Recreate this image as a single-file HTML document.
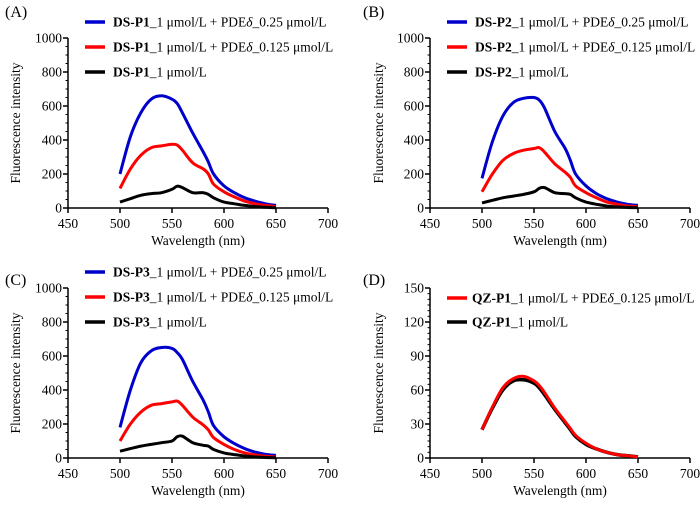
<!DOCTYPE html>
<html><head><meta charset="utf-8"><style>
body{margin:0;background:#fff}
svg, svg text{font-family:"Liberation Serif","Times New Roman",serif}
</style></head><body>
<svg id="fig" width="700" height="500" viewBox="0 0 700 500" font-family="Liberation Serif, serif"></svg>
<script>
const wavelengths=[500,510,520,530,540,550,555,560,570,580,585,590,600,610,620,630,640,650];
const xTicks=[450,500,550,600,650,700];
const yTicksDS=[0,200,400,600,800,1000];
const yTicksQZ=[0,30,60,90,120,150];
const aBlue=[200,420,560,640,660,640,615,560,440,330,270,200,130,90,60,40,25,15];
const aRed=[115,230,310,355,365,375,370,340,265,230,200,140,95,65,40,25,15,8];
const aBlack=[35,55,75,85,90,110,128,120,90,90,80,60,35,25,15,8,4,2];
const bBlue=[175,390,540,620,645,650,635,590,450,350,280,200,130,85,55,35,22,15];
const bRed=[95,200,280,320,340,350,355,330,260,210,180,130,90,60,35,22,12,8];
const bBlack=[30,45,60,70,80,95,115,120,90,85,80,60,35,22,12,6,3,2];
const cBlue=[180,400,560,630,650,645,620,580,450,340,270,190,125,85,55,35,22,15];
const cRed=[100,200,270,310,320,330,335,310,240,195,165,120,80,50,30,18,10,6];
const cBlack=[40,55,70,80,90,100,125,128,90,75,70,50,30,20,12,6,3,2];
const dRed=[25,45,62,70,72,68,64,58,44,32,26,20,13,8,5,3,2,1];
const dBlack=[25,44,60,68,69,66,62,56,43,31,25,19,12,8,5,3,2,1];

const NS="http://www.w3.org/2000/svg";
const svg=document.getElementById('fig');
const FF='Liberation Serif, serif';
function mk(tag,attrs,parent){const e=document.createElementNS(NS,tag);for(const k in attrs)e.setAttribute(k,attrs[k]);if(tag==='text')e.setAttribute('font-family',FF);(parent||svg).appendChild(e);return e;}
function smooth(pts){
 let d='M'+pts[0][0].toFixed(1)+' '+pts[0][1].toFixed(1);
 for(let i=0;i<pts.length-1;i++){
  const p0=pts[Math.max(0,i-1)],p1=pts[i],p2=pts[i+1],p3=pts[Math.min(pts.length-1,i+2)];
  const c1x=p1[0]+(p2[0]-p0[0])/6,c1y=p1[1]+(p2[1]-p0[1])/6;
  const c2x=p2[0]-(p3[0]-p1[0])/6,c2y=p2[1]-(p3[1]-p1[1])/6;
  d+=` C${c1x.toFixed(1)} ${c1y.toFixed(1)} ${c2x.toFixed(1)} ${c2y.toFixed(1)} ${p2[0].toFixed(1)} ${p2[1].toFixed(1)}`;
 }
 return d;
}

const panels=[
 {id:'a',label:'(A)',lx:5,ly:17,x0:68,x1:328,yt:38,yb:208,ticks:yTicksDS,minor:50,ylx:20,
  series:[[aBlue,'#0000cc','DS-P1','+ PDE','0.25 μmol/L'],[aRed,'#ff0000','DS-P1','+ PDE','0.125 μmol/L'],[aBlack,'#000','DS-P1','']],
  legX:85,legY:[22,47,72]},
 {id:'b',label:'(B)',lx:363,ly:17,x0:430,x1:690,yt:38,yb:208,ticks:yTicksDS,minor:50,ylx:383,
  series:[[bBlue,'#0000cc','DS-P2','+ PDE','0.25 μmol/L'],[bRed,'#ff0000','DS-P2','+ PDE','0.125 μmol/L'],[bBlack,'#000','DS-P2','']],
  legX:447,legY:[22,47,72]},
 {id:'c',label:'(C)',lx:5,ly:285,x0:68,x1:328,yt:288,yb:458,ticks:yTicksDS,minor:50,ylx:20,
  series:[[cBlue,'#0000cc','DS-P3','+ PDE','0.25 μmol/L'],[cRed,'#ff0000','DS-P3','+ PDE','0.125 μmol/L'],[cBlack,'#000','DS-P3','']],
  legX:85,legY:[272,297,322]},
 {id:'d',label:'(D)',lx:363,ly:285,x0:430,x1:690,yt:288,yb:458,ticks:yTicksQZ,minor:5,ylx:383,
  series:[[dBlack,'#000','QZ-P1','','',true],[dRed,'#ff0000','QZ-P1','+ PDE','0.125 μmol/L']],
  legX:447,legY:[298,322]}
];

panels.forEach(p=>{
 const g=mk('g',{});
 
 
 const ymax=p.ticks[p.ticks.length-1];
 const sx=v=>p.x0+(v-450)/250*(p.x1-p.x0);
 const sy=v=>p.yb-(v/ymax)*(p.yb-p.yt);
 const pl=mk('text',{x:p.lx,y:p.ly,'font-size':16},g);pl.textContent=p.label;
 
 const ya=mk('line',{x1:p.x0,y1:p.yt,x2:p.x0,y2:p.yb,stroke:'#000','stroke-width':1.5},g);
 
 const xa=mk('line',{x1:p.x0,y1:p.yb,x2:p.x1,y2:p.yb,stroke:'#000','stroke-width':1.5},g);
 
 for(let v=0;v<=ymax;v+=p.minor){const y=sy(v);mk('line',{x1:p.x0-2.5,y1:y,x2:p.x0,y2:y,stroke:'#000','stroke-width':1},g);}
 p.ticks.forEach(v=>{const y=sy(v);mk('line',{x1:p.x0-5,y1:y,x2:p.x0,y2:y,stroke:'#000','stroke-width':1.5},g);
  const t=mk('text',{x:p.x0-6,y:y+4.5,'font-size':13.5,'text-anchor':'end'},g);t.textContent=v;
  });
 xTicks.forEach(v=>{const x=sx(v);mk('line',{x1:x,y1:p.yb,x2:x,y2:p.yb+5,stroke:'#000','stroke-width':1.5},g);
  const t=mk('text',{x:x,y:p.yb+20,'font-size':13.5,'text-anchor':'middle'},g);t.textContent=v;
  });
 const xl=mk('text',{x:(p.x0+p.x1)/2,y:p.yb+37,'font-size':13.5,'text-anchor':'middle'},g);xl.textContent='Wavelength (nm)';
 
 const cy=(p.yt+p.yb)/2;
 const yl=mk('text',{x:p.ylx,y:cy,'font-size':13.5,'text-anchor':'middle',transform:`rotate(-90 ${p.ylx} ${cy})`},g);yl.textContent='Fluorescence intensity';
 
 p.series.forEach(s=>{
  const pts=s[0].map((v,i)=>[sx(wavelengths[i]),sy(v)]);
  const path=mk('path',{d:smooth(pts),fill:'none',stroke:s[1],'stroke-width':s[5]?3.5:3,'stroke-linejoin':'round'},g);
  
 });
 const leg=p.series.slice();
 if(p.id==='d')leg.reverse();
 leg.forEach((s,i)=>{
  const y=p.legY[i];
  const ln=mk('line',{x1:p.legX,y1:y,x2:p.legX+20,y2:y,stroke:s[1],'stroke-width':3.5},g);
  
  const t=mk('text',{x:p.legX+(p.id==='d'?25:28),y:y+4.5,'font-size':13.5},g);
  
  const b=mk('tspan',{'font-weight':'bold'},t);b.textContent=s[2];
  const r=mk('tspan',{},t);r.textContent='_1 μmol/L'+(s[3]?' '+s[3]:'');
  if(s[3]){const dl=mk('tspan',{'font-style':'italic'},t);dl.textContent='δ';
   const r2=mk('tspan',{},t);r2.textContent='_'+s[4];}
 });
});
</script>
</body></html>
